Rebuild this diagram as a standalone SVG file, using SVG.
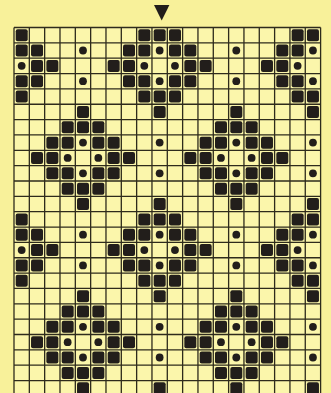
<svg xmlns="http://www.w3.org/2000/svg" xmlns:xlink="http://www.w3.org/1999/xlink" width="331" height="393" viewBox="0 0 331 393">
<style>
.bg{fill:#f8f19a}
.cells{fill:#fbf6ab}
.grid{fill:none;stroke:#2e2b1c;stroke-width:1.3}
.ink{fill:#221e1b}
</style>
<defs>
<rect id="b" class="ink" x="1.7" y="1.7" width="12" height="12" rx="2"/>
<circle id="d" class="ink" cx="7.67" cy="7.67" r="3.9"/>
</defs>
<rect class="bg" x="0" y="0" width="331" height="393"/>
<rect class="cells" x="14" y="27.5" width="306.6" height="370"/>
<polygon id="marker-triangle" class="ink" points="154,5 169.4,5 161.7,20.5"/>
<path class="grid" d="M14 27.5V396M29.33 27.5V396M44.66 27.5V396M59.99 27.5V396M75.32 27.5V396M90.65 27.5V396M105.98 27.5V396M121.31 27.5V396M136.64 27.5V396M151.97 27.5V396M167.3 27.5V396M182.63 27.5V396M197.96 27.5V396M213.29 27.5V396M228.62 27.5V396M243.95 27.5V396M259.28 27.5V396M274.61 27.5V396M289.94 27.5V396M305.27 27.5V396M320.6 27.5V396M14 27.5H320.6M14 42.85H320.6M14 58.2H320.6M14 73.55H320.6M14 88.9H320.6M14 104.25H320.6M14 119.6H320.6M14 134.95H320.6M14 150.3H320.6M14 165.65H320.6M14 181H320.6M14 196.35H320.6M14 211.7H320.6M14 227.05H320.6M14 242.4H320.6M14 257.75H320.6M14 273.1H320.6M14 288.45H320.6M14 303.8H320.6M14 319.15H320.6M14 334.5H320.6M14 349.85H320.6M14 365.2H320.6M14 380.55H320.6"/>
<g id="chart">
<g transform="translate(14,27.5)"><use href="#b" x="0"/><use href="#b" x="122.64"/><use href="#b" x="137.97"/><use href="#b" x="153.3"/><use href="#b" x="275.94"/><use href="#b" x="291.27"/></g>
<g transform="translate(14,42.85)"><use href="#b" x="0"/><use href="#b" x="15.33"/><use href="#d" x="61.32"/><use href="#b" x="107.31"/><use href="#b" x="122.64"/><use href="#d" x="137.97"/><use href="#b" x="153.3"/><use href="#b" x="168.63"/><use href="#d" x="214.62"/><use href="#b" x="260.61"/><use href="#b" x="275.94"/><use href="#d" x="291.27"/></g>
<g transform="translate(14,58.2)"><use href="#d" x="0"/><use href="#b" x="15.33"/><use href="#b" x="30.66"/><use href="#b" x="91.98"/><use href="#b" x="107.31"/><use href="#d" x="122.64"/><use href="#d" x="153.3"/><use href="#b" x="168.63"/><use href="#b" x="183.96"/><use href="#b" x="245.28"/><use href="#b" x="260.61"/><use href="#d" x="275.94"/></g>
<g transform="translate(14,73.55)"><use href="#b" x="0"/><use href="#b" x="15.33"/><use href="#d" x="61.32"/><use href="#b" x="107.31"/><use href="#b" x="122.64"/><use href="#d" x="137.97"/><use href="#b" x="153.3"/><use href="#b" x="168.63"/><use href="#d" x="214.62"/><use href="#b" x="260.61"/><use href="#b" x="275.94"/><use href="#d" x="291.27"/></g>
<g transform="translate(14,88.9)"><use href="#b" x="0"/><use href="#b" x="122.64"/><use href="#b" x="137.97"/><use href="#b" x="153.3"/><use href="#b" x="275.94"/><use href="#b" x="291.27"/></g>
<g transform="translate(14,104.25)"><use href="#b" x="61.32"/><use href="#b" x="137.97"/><use href="#b" x="214.62"/><use href="#b" x="291.27"/></g>
<g transform="translate(14,119.6)"><use href="#b" x="45.99"/><use href="#b" x="61.32"/><use href="#b" x="76.65"/><use href="#b" x="199.29"/><use href="#b" x="214.62"/><use href="#b" x="229.95"/></g>
<g transform="translate(14,134.95)"><use href="#b" x="30.66"/><use href="#b" x="45.99"/><use href="#d" x="61.32"/><use href="#b" x="76.65"/><use href="#b" x="91.98"/><use href="#d" x="137.97"/><use href="#b" x="183.96"/><use href="#b" x="199.29"/><use href="#d" x="214.62"/><use href="#b" x="229.95"/><use href="#b" x="245.28"/><use href="#d" x="291.27"/></g>
<g transform="translate(14,150.3)"><use href="#b" x="15.33"/><use href="#b" x="30.66"/><use href="#d" x="45.99"/><use href="#d" x="76.65"/><use href="#b" x="91.98"/><use href="#b" x="107.31"/><use href="#b" x="168.63"/><use href="#b" x="183.96"/><use href="#d" x="199.29"/><use href="#d" x="229.95"/><use href="#b" x="245.28"/><use href="#b" x="260.61"/></g>
<g transform="translate(14,165.65)"><use href="#b" x="30.66"/><use href="#b" x="45.99"/><use href="#d" x="61.32"/><use href="#b" x="76.65"/><use href="#b" x="91.98"/><use href="#d" x="137.97"/><use href="#b" x="183.96"/><use href="#b" x="199.29"/><use href="#d" x="214.62"/><use href="#b" x="229.95"/><use href="#b" x="245.28"/><use href="#d" x="291.27"/></g>
<g transform="translate(14,181)"><use href="#b" x="45.99"/><use href="#b" x="61.32"/><use href="#b" x="76.65"/><use href="#b" x="199.29"/><use href="#b" x="214.62"/><use href="#b" x="229.95"/></g>
<g transform="translate(14,196.35)"><use href="#b" x="61.32"/><use href="#b" x="137.97"/><use href="#b" x="214.62"/><use href="#b" x="291.27"/></g>
<g transform="translate(14,211.7)"><use href="#b" x="0"/><use href="#b" x="122.64"/><use href="#b" x="137.97"/><use href="#b" x="153.3"/><use href="#b" x="275.94"/><use href="#b" x="291.27"/></g>
<g transform="translate(14,227.05)"><use href="#b" x="0"/><use href="#b" x="15.33"/><use href="#d" x="61.32"/><use href="#b" x="107.31"/><use href="#b" x="122.64"/><use href="#d" x="137.97"/><use href="#b" x="153.3"/><use href="#b" x="168.63"/><use href="#d" x="214.62"/><use href="#b" x="260.61"/><use href="#b" x="275.94"/><use href="#d" x="291.27"/></g>
<g transform="translate(14,242.4)"><use href="#d" x="0"/><use href="#b" x="15.33"/><use href="#b" x="30.66"/><use href="#b" x="91.98"/><use href="#b" x="107.31"/><use href="#d" x="122.64"/><use href="#d" x="153.3"/><use href="#b" x="168.63"/><use href="#b" x="183.96"/><use href="#b" x="245.28"/><use href="#b" x="260.61"/><use href="#d" x="275.94"/></g>
<g transform="translate(14,257.75)"><use href="#b" x="0"/><use href="#b" x="15.33"/><use href="#d" x="61.32"/><use href="#b" x="107.31"/><use href="#b" x="122.64"/><use href="#d" x="137.97"/><use href="#b" x="153.3"/><use href="#b" x="168.63"/><use href="#d" x="214.62"/><use href="#b" x="260.61"/><use href="#b" x="275.94"/><use href="#d" x="291.27"/></g>
<g transform="translate(14,273.1)"><use href="#b" x="0"/><use href="#b" x="122.64"/><use href="#b" x="137.97"/><use href="#b" x="153.3"/><use href="#b" x="275.94"/><use href="#b" x="291.27"/></g>
<g transform="translate(14,288.45)"><use href="#b" x="61.32"/><use href="#b" x="137.97"/><use href="#b" x="214.62"/><use href="#b" x="291.27"/></g>
<g transform="translate(14,303.8)"><use href="#b" x="45.99"/><use href="#b" x="61.32"/><use href="#b" x="76.65"/><use href="#b" x="199.29"/><use href="#b" x="214.62"/><use href="#b" x="229.95"/></g>
<g transform="translate(14,319.15)"><use href="#b" x="30.66"/><use href="#b" x="45.99"/><use href="#d" x="61.32"/><use href="#b" x="76.65"/><use href="#b" x="91.98"/><use href="#d" x="137.97"/><use href="#b" x="183.96"/><use href="#b" x="199.29"/><use href="#d" x="214.62"/><use href="#b" x="229.95"/><use href="#b" x="245.28"/><use href="#d" x="291.27"/></g>
<g transform="translate(14,334.5)"><use href="#b" x="15.33"/><use href="#b" x="30.66"/><use href="#d" x="45.99"/><use href="#d" x="76.65"/><use href="#b" x="91.98"/><use href="#b" x="107.31"/><use href="#b" x="168.63"/><use href="#b" x="183.96"/><use href="#d" x="199.29"/><use href="#d" x="229.95"/><use href="#b" x="245.28"/><use href="#b" x="260.61"/></g>
<g transform="translate(14,349.85)"><use href="#b" x="30.66"/><use href="#b" x="45.99"/><use href="#d" x="61.32"/><use href="#b" x="76.65"/><use href="#b" x="91.98"/><use href="#d" x="137.97"/><use href="#b" x="183.96"/><use href="#b" x="199.29"/><use href="#d" x="214.62"/><use href="#b" x="229.95"/><use href="#b" x="245.28"/><use href="#d" x="291.27"/></g>
<g transform="translate(14,365.2)"><use href="#b" x="45.99"/><use href="#b" x="61.32"/><use href="#b" x="76.65"/><use href="#b" x="199.29"/><use href="#b" x="214.62"/><use href="#b" x="229.95"/></g>
<g transform="translate(14,380.55)"><use href="#b" x="61.32"/><use href="#b" x="137.97"/><use href="#b" x="214.62"/><use href="#b" x="291.27"/></g>
</g>
</svg>
